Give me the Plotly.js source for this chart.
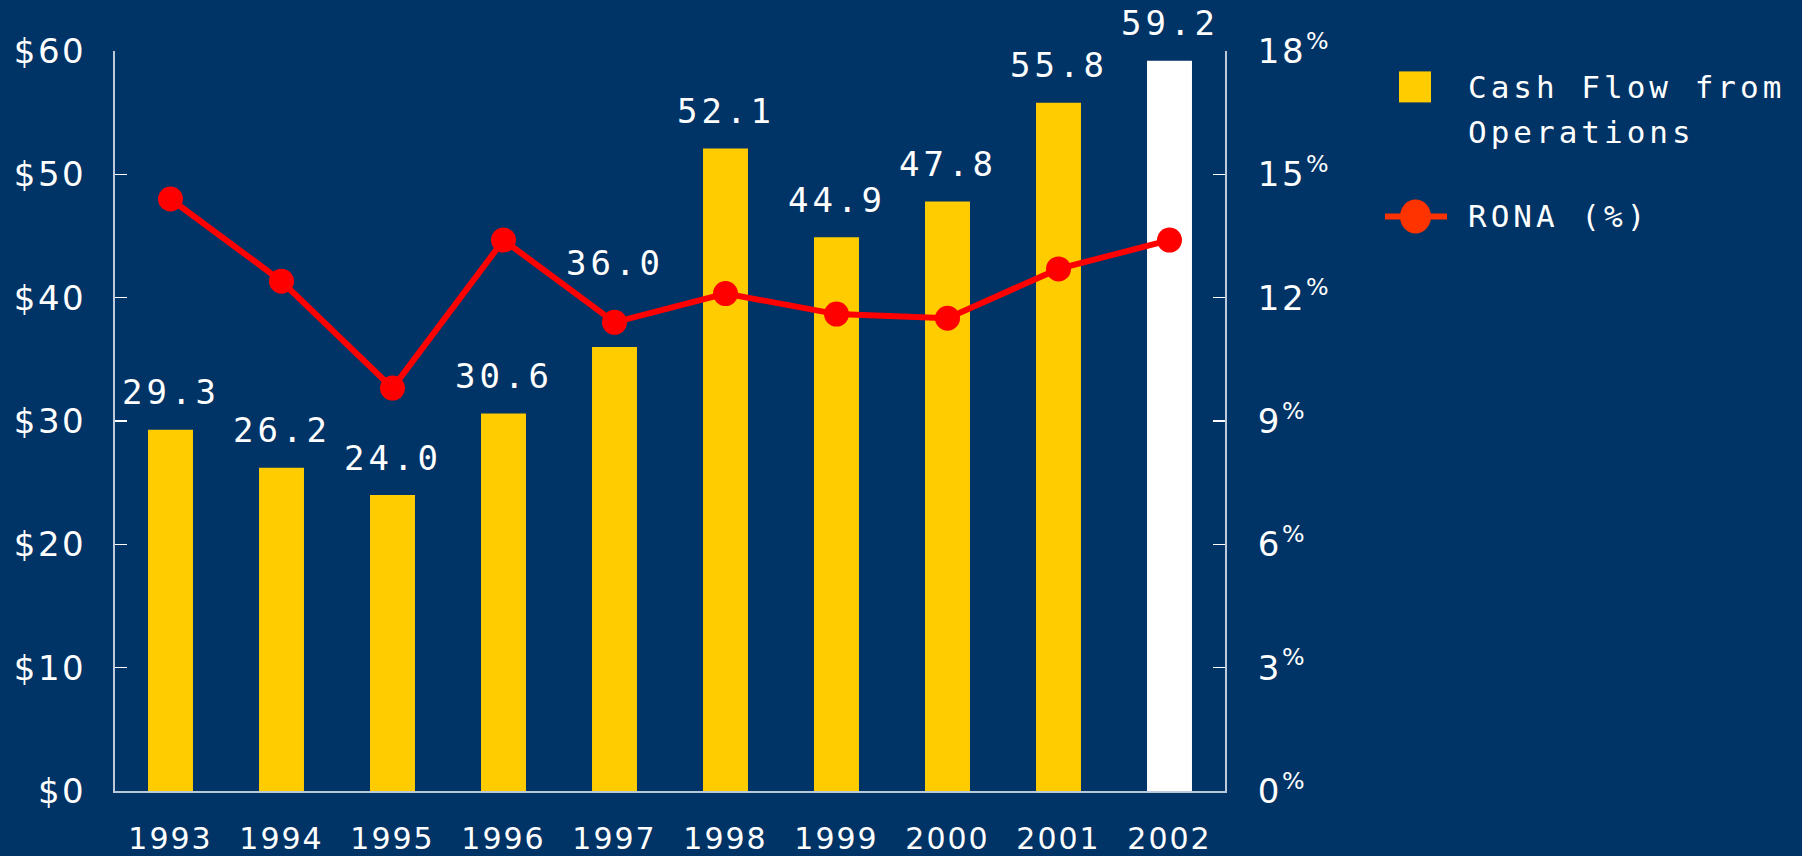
<!DOCTYPE html>
<html>
<head>
<meta charset="utf-8">
<script src="https://cdn.plot.ly/plotly-3.0.1.min.js"></script>
<style>
  html, body { margin: 0; padding: 0; background: #003366; }
  #chart { width: 1802px; height: 856px; }
  g.ytick text, g.y2tick text { letter-spacing: 2.5px; }
  g.xtick text { letter-spacing: 2px; }
  .annotation-text { letter-spacing: 4px; }
</style>
</head>
<body>
<div id="chart"></div>
<script>
const years = ['1993','1994','1995','1996','1997','1998','1999','2000','2001','2002'];
const cashFlow = [29.3, 26.2, 24.0, 30.6, 36.0, 52.1, 44.9, 47.8, 55.8, 59.2];
const rona = [14.4, 12.4, 9.8, 13.4, 11.4, 12.1, 11.6, 11.5, 12.7, 13.4];
const leftTickVals = [0, 10, 20, 30, 40, 50, 60];
const leftTickText = ['$0', '$10', '$20', '$30', '$40', '$50', '$60'];
const rightTickVals = [0, 3, 6, 9, 12, 15, 18];
const rightTickText = ['0<sup>%</sup>', '3<sup>%</sup>', '6<sup>%</sup>', '9<sup>%</sup>', '12<sup>%</sup>', '15<sup>%</sup>', '18<sup>%</sup>'];
const legendCash = ['Cash Flow from', 'Operations'];
const legendRona = 'RONA (%)';

const BG = '#003366', YELLOW = '#ffcc00', RED = '#ff0000', WHITE = '#ffffff';
const AXIS = 'rgba(220,228,240,0.85)';

const Y1MAX = 60, Y2MAX = 18;
const PLOT_H = 856 - 51 - 65;

const barColors = years.map((_, i) => i === years.length - 1 ? WHITE : YELLOW);

const traces = [
  {
    type: 'bar', x: years, y: cashFlow, name: legendCash.join(' '),
    marker: { color: barColors, line: { width: 0 } },
    hoverinfo: 'x+y'
  },
  {
    type: 'scatter', mode: 'lines+markers', x: years, y: rona, yaxis: 'y2',
    name: legendRona,
    line: { color: RED, width: 6 },
    marker: { color: RED, size: 25 }
  }
];

// value labels above bars; lifted above the RONA marker when they would collide
const LABEL_GAP = 37.5, MARKER_CLEAR = 59.5, HALF_BOX = 22;
const annotations = years.map((yr, i) => {
  const barPx = cashFlow[i] / Y1MAX * PLOT_H;
  const markPx = rona[i] / Y2MAX * PLOT_H;
  let center = barPx + LABEL_GAP;
  if (Math.abs(center - markPx) < 45) center = markPx + MARKER_CLEAR;
  return {
    x: i, y: cashFlow[i], xref: 'x', yref: 'y',
    text: cashFlow[i].toFixed(1), showarrow: false,
    xanchor: 'center', yanchor: 'bottom', yshift: center - barPx - HALF_BOX,
    font: { family: 'DejaVu Sans Mono', size: 34, color: WHITE }
  };
});

// legend drawn manually (larger icons than the built-in legend allows)
const px2x = p => (p - 115) / 1110;
const px2y = p => (790.6 - p) / 740;
annotations.push(
  { xref: 'paper', yref: 'paper', x: px2x(1466), y: px2y(87), text: legendCash[0], showarrow: false,
    xanchor: 'left', yanchor: 'middle', font: { family: 'DejaVu Sans Mono', size: 31, color: WHITE } },
  { xref: 'paper', yref: 'paper', x: px2x(1466), y: px2y(132), text: legendCash[1], showarrow: false,
    xanchor: 'left', yanchor: 'middle', font: { family: 'DejaVu Sans Mono', size: 31, color: WHITE } },
  { xref: 'paper', yref: 'paper', x: px2x(1466), y: px2y(216), text: legendRona, showarrow: false,
    xanchor: 'left', yanchor: 'middle', font: { family: 'DejaVu Sans Mono', size: 31, color: WHITE } }
);

const shapes = [
  { type: 'rect', xref: 'paper', yref: 'paper', x0: px2x(1399), x1: px2x(1431), y0: px2y(102), y1: px2y(71),
    fillcolor: YELLOW, line: { width: 0 } },
  { type: 'line', xref: 'paper', yref: 'paper', x0: px2x(1385), x1: px2x(1447), y0: px2y(216), y1: px2y(216),
    line: { color: '#ff3300', width: 6 } },
  { type: 'circle', xref: 'paper', yref: 'paper', x0: px2x(1400), x1: px2x(1431), y0: px2y(233), y1: px2y(199),
    fillcolor: '#ff3300', line: { width: 0 } }
];

const layout = {
  width: 1802, height: 856,
  paper_bgcolor: BG, plot_bgcolor: BG,
  margin: { l: 115, r: 577, t: 51, b: 65, pad: 0 },
  showlegend: false,
  bargap: 0.595,
  font: { family: 'DejaVu Sans', color: WHITE },
  xaxis: {
    type: 'category', range: [-0.5, 9.5],
    showline: true, linecolor: AXIS, linewidth: 2,
    ticks: '', showgrid: false, zeroline: false,
    tickfont: { family: 'DejaVu Sans', size: 30, color: WHITE },
    ticklabelstandoff: 20
  },
  yaxis: {
    range: [0, Y1MAX], tickvals: leftTickVals, ticktext: leftTickText,
    showline: true, linecolor: AXIS, linewidth: 2,
    ticks: 'inside', ticklen: 12, tickwidth: 1.5, tickcolor: WHITE,
    showgrid: false, zeroline: false,
    tickfont: { family: 'DejaVu Sans', size: 34, color: WHITE },
    ticklabelstandoff: 20
  },
  yaxis2: {
    range: [0, Y2MAX], overlaying: 'y', side: 'right',
    tickvals: rightTickVals, ticktext: rightTickText,
    showline: true, linecolor: AXIS, linewidth: 2,
    ticks: 'inside', ticklen: 12, tickwidth: 1.5, tickcolor: WHITE,
    showgrid: false, zeroline: false,
    tickfont: { family: 'DejaVu Sans', size: 34, color: WHITE },
    ticklabelstandoff: 24
  },
  annotations: annotations,
  shapes: shapes
};

Plotly.newPlot('chart', traces, layout, { displayModeBar: false, staticPlot: true });
</script>
</body>
</html>
